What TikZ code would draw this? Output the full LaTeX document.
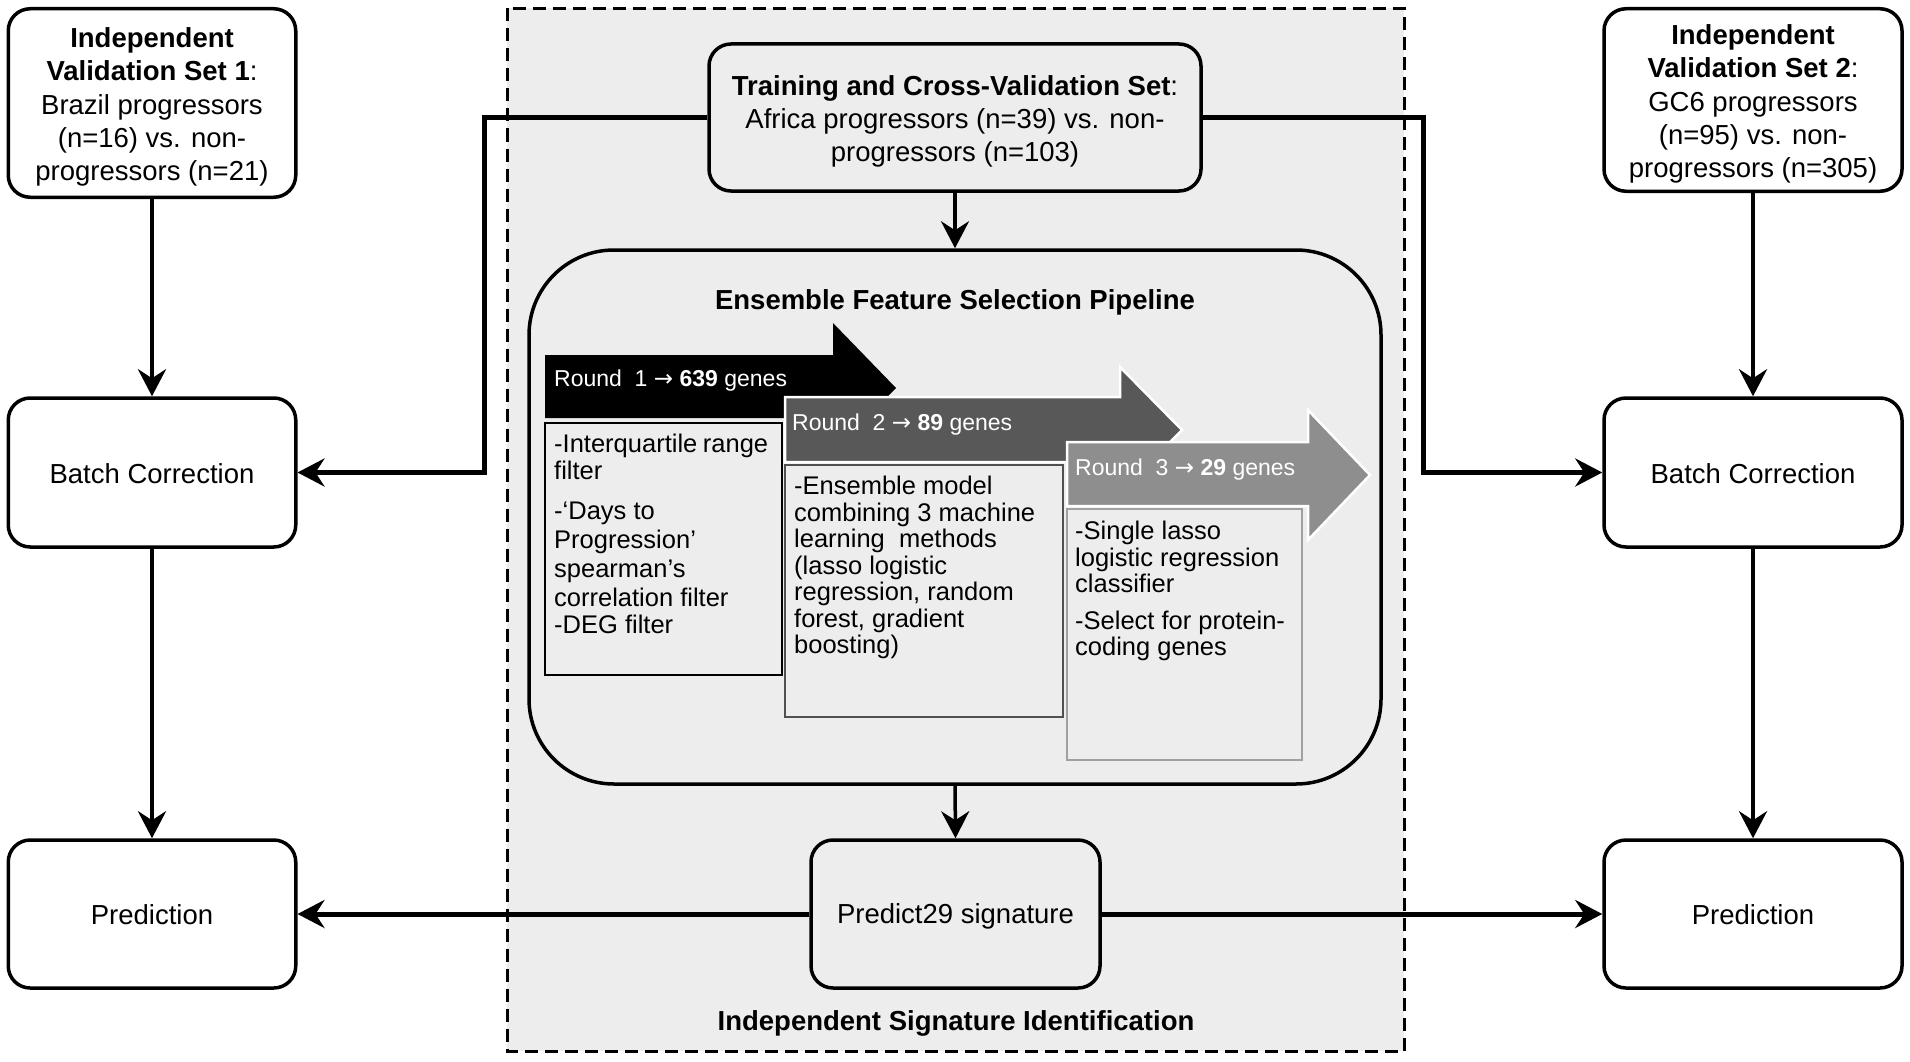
\documentclass[tikz,border=0pt]{standalone}
\usepackage{fontspec}
\setmainfont{Liberation Sans}
\newfontfamily\dejavu{DejaVu Sans}
\usetikzlibrary{arrows.meta}
\definecolor{bggray}{HTML}{EDEDED}
\definecolor{rtwo}{HTML}{585858}
\definecolor{rthree}{HTML}{8E8E8E}
\definecolor{btwo}{HTML}{505050}
\definecolor{bthree}{HTML}{A0A0A0}
\begin{document}
\begin{tikzpicture}[x=1pt,y=-1pt,
  every node/.style={inner sep=0pt},
  mainfont/.style={font=\fontsize{27.5}{33.2}\selectfont},
  sidebox/.style={draw, line width=3.5pt, rounded corners=22pt, fill=white},
  graybox/.style={sidebox, fill=bggray},
  boxtext/.style={align=center, mainfont},
  tip/.style={-{Stealth[length=27pt,width=28pt,inset=9pt]}},
  conn/.style={tip, line width=5pt},
  vconn/.style={tip, line width=4.5pt},
  cconn/.style={tip, line width=3.5pt},
  roundtxt/.style={anchor=north west, align=left, font=\fontsize{25.5}{26.5}\selectfont},
  roundlbl/.style={anchor=west, text=white, font=\fontsize{23}{26}\selectfont},
  title/.style={font=\bfseries\fontsize{27.5}{33}\selectfont},
]
\useasboundingbox (0,0) rectangle (1910,1062);

% dashed region
\draw[fill=bggray, line width=3pt, dash pattern=on 13pt off 7pt] (507,8.5) rectangle (1404,1051);

% side boxes
\node[sidebox, minimum width=287.5pt, minimum height=188.5pt] (vs1) at (152,103) {};
\node[boxtext] (vs1t) at (152,107)
  {\textbf{Independent}\\\textbf{Validation Set 1}:\\Brazil progressors\\(n=16) vs. non-\\progressors (n=21)};
\node[sidebox, minimum width=287.5pt, minimum height=149pt] (batchL) at (152,472.5) {};
\node[boxtext] (batchLt) at (152,473.5) {Batch Correction};
\node[sidebox, minimum width=287.5pt, minimum height=148pt] (predL) at (152,914) {};
\node[boxtext] (predLt) at (152,914.5) {Prediction};

\node[sidebox, minimum width=298pt, minimum height=182.5pt] (vs2) at (1753,100) {};
\node[boxtext] (vs2t) at (1753,104)
  {\textbf{Independent}\\\textbf{Validation Set 2}:\\GC6 progressors\\(n=95) vs. non-\\progressors (n=305)};
\node[sidebox, minimum width=298pt, minimum height=149pt] (batchR) at (1753,472.5) {};
\node[boxtext] (batchRt) at (1753,473.5) {Batch Correction};
\node[sidebox, minimum width=298pt, minimum height=148pt] (predR) at (1753,914) {};
\node[boxtext] (predRt) at (1753,914.5) {Prediction};

% center boxes
\node[graybox, minimum width=492pt, minimum height=147pt] (train) at (955,117.5) {};
\node[boxtext] (traint) at (955,121.5)
  {\textbf{Training and Cross-Validation Set}:\\Africa progressors (n=39) vs. non-\\progressors (n=103)};
\node[graybox, rounded corners=85pt, minimum width=852pt, minimum height=534pt] (pipe) at (955,517) {};
\node[title] (pipetitle) at (955,302.5) {Ensemble Feature Selection Pipeline};
\node[graybox, minimum width=289pt, minimum height=148pt] (p29) at (955.5,914) {};
\node[boxtext] (p29t) at (955.5,916) {Predict29 signature};
\node[title] (sigtitle) at (956,1023.5) {Independent Signature Identification};

% connectors
\coordinate (kneeL) at (484,117.5);
\coordinate (kneeR) at (1423,117.5);
\draw[conn] (train.west) -- (kneeL) |- (batchL.east);
\draw[conn] (train.east) -- (kneeR) |- (batchR.west);
\draw[vconn] (vs1.south) -- (batchL.north);
\draw[vconn] (batchL.south) -- (predL.north);
\draw[vconn] (vs2.south) -- (batchR.north);
\draw[vconn] (batchR.south) -- (predR.north);
\draw[cconn] (train.south) -- (pipe.north);
\draw[cconn] (pipe.south) -- (p29.north);
\draw[conn] (p29.west) -- (predL.east);
\draw[conn] (p29.east) -- (predR.west);

% round 1
\fill[black] (545,355) -- (833,355) -- (833,323) -- (896,388) -- (833,453) -- (833,418) -- (545,418) -- cycle;
\node[roundlbl] (l1) at (554,381) {Round\ \ 1 {\dejavu →} \textbf{639} genes};
\draw[fill=bggray, line width=2pt] (545,423) rectangle (782,675);
\node[roundtxt, font=\fontsize{25.5}{29}\selectfont] (t1) at (554,433.5)
  {\makebox[214pt][s]{-Interquartile range}\\[-2pt]filter\\[11pt]-‘Days to\\Progression’\\spearman’s\\correlation filter\\[-2pt]-DEG filter};

% round 2
\draw[fill=rtwo, draw=white, line width=2.5pt] (785,397) -- (1120,397) -- (1120,367) -- (1182,430) -- (1120,493) -- (1120,462) -- (785,462) -- cycle;
\node[roundlbl] (l2) at (792,424.5) {Round\ \ 2 {\dejavu →} \textbf{89} genes};
\draw[fill=bggray, draw=btwo, line width=2.5pt] (785,465) rectangle (1063,717);
\node[roundtxt] (t2) at (794,476)
  {-Ensemble model\\combining 3 machine\\learning\ \ methods\\(lasso logistic\\regression, random\\forest, gradient\\boosting)};

% round 3
\draw[fill=rthree, draw=white, line width=2.5pt] (1067,442) -- (1308,442) -- (1308,410) -- (1370,475) -- (1308,540) -- (1308,506) -- (1067,506) -- cycle;
\node[roundlbl] (l3) at (1075,469.5) {Round\ \ 3 {\dejavu →} \textbf{29} genes};
\draw[fill=bggray, draw=bthree, line width=2.5pt] (1067,509) rectangle (1302,760);
\node[roundtxt] (t3) at (1075,521)
  {-Single lasso\\logistic regression\\classifier\\[10pt]-Select for protein-\\coding genes};

\end{tikzpicture}
\end{document}
